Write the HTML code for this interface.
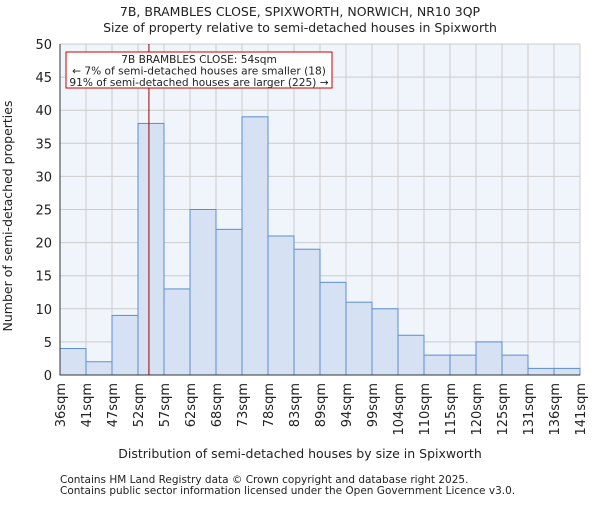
<!DOCTYPE html>
<html><head><meta charset="utf-8"><style>
body{margin:0;background:#fff}
svg text{font-family:"DejaVu Sans","Liberation Sans",sans-serif;fill:#222}
</style></head><body>
<svg id="chart" width="600" height="500" viewBox="0 0 600 500">
<text x="300" y="16" font-size="12.5" text-anchor="middle">7B, BRAMBLES CLOSE, SPIXWORTH, NORWICH, NR10 3QP</text>
<text x="300" y="32" font-size="12.5" text-anchor="middle">Size of property relative to semi-detached houses in Spixworth</text>
<rect x="60" y="44" width="520" height="331" fill="#f0f4fb"/>
<g id="grid"></g><g id="bars"></g><g id="axes"></g>
<text x="300" y="458" font-size="12.5" text-anchor="middle">Distribution of semi-detached houses by size in Spixworth</text>
<text transform="translate(12,216) rotate(-90)" font-size="12.5" text-anchor="middle">Number of semi-detached properties</text>
<text x="60" y="483" font-size="10.5" fill="#444">Contains HM Land Registry data © Crown copyright and database right 2025.</text>
<text x="60" y="494" font-size="10.5" fill="#444">Contains public sector information licensed under the Open Government Licence v3.0.</text>
</svg>
<script>
const categories=["36sqm","41sqm","47sqm","52sqm","57sqm","62sqm","68sqm","73sqm","78sqm","83sqm","89sqm","94sqm","99sqm","104sqm","110sqm","115sqm","120sqm","125sqm","131sqm","136sqm","141sqm"];
const counts=[4,2,9,38,13,25,22,39,21,19,14,11,10,6,3,3,5,3,1,1];
const yTicks=[0,5,10,15,20,25,30,35,40,45,50];
const markerPos=[3.42];
const annotationLines=["7B BRAMBLES CLOSE: 54sqm","← 7% of semi-detached houses are smaller (18)","91% of semi-detached houses are larger (225) →"];
const NS="http://www.w3.org/2000/svg";
const L=60,R=580,T=44,B=375,yMax=50;
const bw=(R-L)/counts.length;
const xs=i=>L+i*bw, ys=v=>B-(v/yMax)*(B-T);
function mk(tag,attrs,parent,txt){const e=document.createElementNS(NS,tag);for(const k in attrs)e.setAttribute(k,attrs[k]);if(txt!==undefined)e.textContent=txt;(typeof parent==='string'?document.getElementById(parent):parent).appendChild(e);return e;}
const svg=document.getElementById('chart');
yTicks.forEach(v=>{
 const g=mk('line',{x1:L,x2:R,y1:ys(v),y2:ys(v),stroke:'#ccc','stroke-width':1},'grid');
 
 
 const t=mk('text',{x:L-8,y:ys(v)+5,'font-size':13,'text-anchor':'end'},'axes',String(v));
 
 
});
categories.forEach((c,i)=>{
 const g=mk('line',{x1:xs(i),x2:xs(i),y1:T,y2:B,stroke:'#ccc','stroke-width':1},'grid');
 
 
 const x=xs(i);
 const t=mk('text',{transform:`translate(${x+5},${B+8}) rotate(-90)`,'font-size':13,'text-anchor':'end'},'axes',c);
 
 
});
counts.forEach((v,i)=>{
 const r=mk('rect',{x:xs(i),y:ys(v),width:bw,height:B-ys(v),fill:'#d6e2f4',stroke:'#5b8fd0','stroke-width':1},'bars');
 
 
});
const mx=xs(markerPos[0]);
const ml=mk('line',{x1:mx,x2:mx,y1:T,y2:B,stroke:'#900','stroke-width':1},svg);


const box=mk('rect',{x:66,y:52,width:266,height:36,fill:'#fff',stroke:'#c00','stroke-width':1},svg);


annotationLines.forEach((s,i)=>{
 const t=mk('text',{x:199,y:63+i*11.5,'font-size':10.6,'text-anchor':'middle'},svg,s);
 
 
});
const ax=mk('path',{d:`M${L},${T}V${B}H${R}`,fill:'none',stroke:'#333','stroke-width':1},'axes');


</script>
</body></html>
